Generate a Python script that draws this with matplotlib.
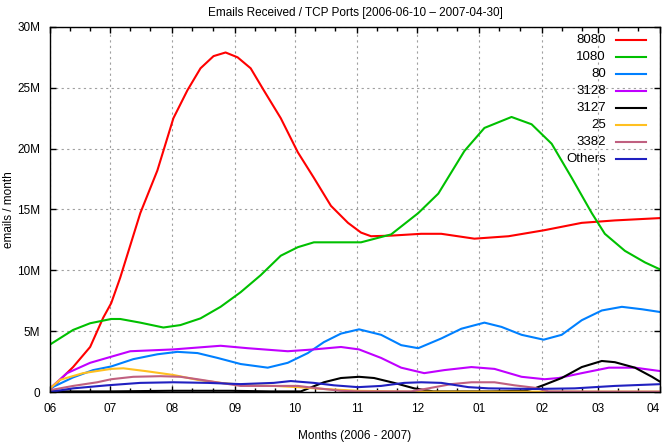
import numpy as np
import matplotlib
matplotlib.use('Agg')
import matplotlib.pyplot as plt
import matplotlib.dates as mdates
from matplotlib.ticker import FuncFormatter, MultipleLocator

plt.rcParams['font.family'] = ['Liberation Sans', 'DejaVu Sans']

# Data: days since 2006-06-01, values in millions of emails / month
start = '2006-06-01'
end = '2007-04-01'

days_8080 = [0, 11.5, 20, 26.5, 30.5, 35, 45, 53.5, 61.5, 68.5, 75, 81.5, 87.5, 93.5, 100,
             106.5, 115, 123.5, 131.5, 140, 148.5, 155, 160, 170, 185, 195, 211.5, 228.5,
             246.5, 265, 281.5, 305]
vals_8080 = [0.2, 2.05, 3.7, 6.1, 7.3, 9.4, 14.7, 18.2, 22.5, 24.8, 26.6, 27.6, 27.9, 27.5, 26.6,
             24.8, 22.5, 19.7, 17.6, 15.3, 13.9, 13.1, 12.8, 12.85, 13.0, 13.0, 12.6, 12.8,
             13.3, 13.9, 14.1, 14.3]

days_1080 = [0, 11.5, 20, 30.5, 35, 45, 56.5, 65, 75, 85, 95, 105, 115, 123.5, 131.5, 155,
             170, 183.5, 193.5, 206.5, 216.5, 230, 240, 250, 260, 270, 276.5, 286.5, 296.5, 305]
vals_1080 = [3.9, 5.1, 5.65, 6.0, 6.0, 5.7, 5.3, 5.5, 6.05, 7.0, 8.2, 9.6, 11.2, 11.9, 12.3, 12.3,
             12.95, 14.7, 16.3, 19.8, 21.7, 22.6, 22.0, 20.4, 17.6, 14.7, 13.0, 11.6, 10.65, 10.0]

days_80 = [0, 11.5, 21.5, 30.5, 41.5, 53.5, 63.5, 73.5, 83.5, 95, 108.5, 118.5, 128.5, 136.5,
           145, 154, 165, 175, 183.5, 195, 205, 216.5, 225, 235, 246, 255, 265, 275, 285, 295, 305]
vals_80 = [0.3, 1.2, 1.8, 2.1, 2.7, 3.1, 3.3, 3.2, 2.8, 2.3, 2.0, 2.4, 3.2, 4.1,
           4.8, 5.15, 4.7, 3.85, 3.6, 4.4, 5.2, 5.7, 5.35, 4.7, 4.3, 4.7, 5.9, 6.7, 7.0, 6.8, 6.55]

days_3128 = [0, 8.5, 20, 30.5, 40, 61.5, 85, 98.5, 118.5, 131.5, 145, 154, 165, 175, 186.5,
             196.5, 210, 221.5, 235, 246.5, 253.5, 265, 278.5, 291.5, 305]
vals_3128 = [0.3, 1.55, 2.4, 2.9, 3.35, 3.5, 3.8, 3.6, 3.35, 3.5, 3.7, 3.5, 2.8, 2.0, 1.55,
             1.8, 2.05, 1.9, 1.25, 1.05, 1.15, 1.55, 2.0, 2.0, 1.7]

days_3127 = [0, 30, 60, 90, 110, 125, 136.5, 145, 154, 161.5, 171.5, 181.5, 191, 220, 236,
             241.5, 246.5, 255, 265, 275, 281.5, 291.5, 300, 305]
vals_3127 = [0.05, 0.05, 0.1, 0.1, 0.05, 0.05, 0.8, 1.15, 1.25, 1.15, 0.75, 0.3, 0.05, 0.05, 0.1,
             0.3, 0.6, 1.15, 2.05, 2.55, 2.45, 2.0, 1.25, 0.75]

days_25 = [0, 5, 16.5, 30.5, 36.5, 48.5, 61.5, 73.5, 85, 98.5, 111.5, 123.5, 136.5, 153.5,
           180, 220, 260, 305]
vals_25 = [0.3, 1.0, 1.55, 1.9, 1.95, 1.7, 1.4, 1.0, 0.75, 0.55, 0.5, 0.4, 0.25, 0.1,
           0.03, 0.03, 0.03, 0.03]

days_3382 = [0, 11.5, 23.5, 30.5, 41.5, 55, 65, 73.5, 85, 95, 111.5, 123.5, 133.5, 145, 153.5,
             180, 188.5, 200, 210, 221.5, 231.5, 241.5, 248.5, 270, 305]
vals_3382 = [0.15, 0.5, 0.8, 1.05, 1.25, 1.3, 1.25, 1.05, 0.75, 0.5, 0.5, 0.5, 0.3, 0.1, 0.05,
             0.05, 0.3, 0.65, 0.8, 0.8, 0.55, 0.35, 0.05, 0.03, 0.03]

days_other = [0, 11.5, 28.5, 45, 61.5, 78.5, 95, 111.5, 120, 131.5, 141.5, 153.5, 165, 176.5,
              185, 195, 208.5, 218.5, 241.5, 261.5, 281.5, 305]
vals_other = [0.0, 0.3, 0.55, 0.75, 0.8, 0.75, 0.65, 0.75, 0.9, 0.75, 0.55, 0.4, 0.5, 0.75,
              0.8, 0.75, 0.4, 0.3, 0.25, 0.3, 0.5, 0.65]

labels = ['8080', '1080', '80', '3128', '3127', '25', '3382', 'Others']
colors = ['#ff0000', '#00c000', '#0080ff', '#c000ff', '#000000', '#ffc020', '#c06080', '#2020c0']
series = [(days_8080, vals_8080), (days_1080, vals_1080), (days_80, vals_80),
          (days_3128, vals_3128), (days_3127, vals_3127), (days_25, vals_25),
          (days_3382, vals_3382), (days_other, vals_other)]

t0 = mdates.date2num(np.datetime64(start))
t1 = mdates.date2num(np.datetime64(end))

fig = plt.figure(figsize=(6.64, 4.42), dpi=100)
ax = fig.add_axes([0.0753, 0.1131, 0.9187, 0.826])

for (d, v), c in zip(series, colors):
    ax.plot(t0 + np.array(d), v, color=c, lw=1.5, solid_joinstyle='round')

ax.set_xlim(t0, t1)
ax.set_ylim(0, 30)

ax.xaxis.set_major_locator(mdates.MonthLocator())
ax.xaxis.set_major_formatter(mdates.DateFormatter('%m'))
ax.xaxis.set_minor_locator(mdates.DayLocator(bymonthday=[11, 21]))
ax.yaxis.set_major_locator(MultipleLocator(5))
ax.yaxis.set_major_formatter(FuncFormatter(lambda v, p: '0' if v == 0 else f'{int(v)}M'))

ax.tick_params(which='both', direction='in', top=True, right=True, labelsize=8.5, width=1.0)
ax.tick_params(which='major', length=4, pad=7)
ax.tick_params(which='minor', length=3)
ax.tick_params(axis='x', pad=8)
for s in ax.spines.values():
    s.set_linewidth(1.0)

ax.grid(True, which='major', color='#a0a0a0', linestyle=(0, (2, 3)), lw=0.8)

ax.set_title('Emails Received / TCP Ports [2006-06-10 \u2013 2007-04-30]', fontsize=8.5, pad=8)
ax.set_xlabel('Months (2006 - 2007)', fontsize=8.5)
ax.set_ylabel('emails / month', fontsize=8.5)
ax.xaxis.set_label_coords(0.5, -0.103)
ax.yaxis.set_label_coords(-0.058, 0.5)

# last month label sits flush against the right edge
fig.canvas.draw()
ax.get_xticklabels()[-1].set_horizontalalignment('right')
ax.get_xticklabels()[-1].set_x(t1)

# gnuplot-style key: label right-aligned, sample line to the right
for i, (lab, c) in enumerate(zip(labels, colors)):
    y = 0.964 - i * 0.0466
    ax.text(0.911, y, lab, transform=ax.transAxes, ha='right', va='center', fontsize=9.5)
    ax.plot([0.928, 0.977], [y, y], transform=ax.transAxes, color=c, lw=1.5)

fig.savefig('out.png', dpi=100)
